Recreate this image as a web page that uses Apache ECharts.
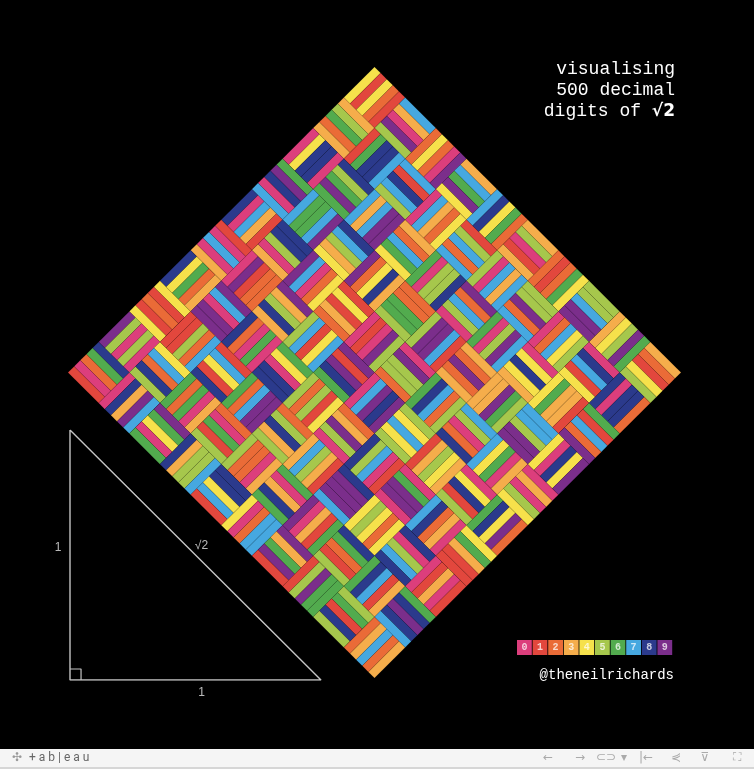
<!DOCTYPE html>
<html><head><meta charset="utf-8">
<script src="https://cdn.jsdelivr.net/npm/echarts@6/dist/echarts.min.js"></script>
<style>html,body{margin:0;padding:0;background:#000;overflow:hidden}#c{width:754px;height:769px}</style>
</head><body><div id="c"></div>
<script>
// 500 decimal digits of sqrt(2), in rows of 10
const digitRows = [
"4142135623","7309504880","1688724209","6980785696","7187537694",
"8073176679","7379907324","7846210703","8850387534","3276415727",
"3501384623","0912297024","9248360558","5073721264","4121497099",
"9358314132","2266592750","5592755799","9505011527","8206057147",
"0109559971","6059702745","3459686201","4728517418","6408891986",
"0955232923","0484308714","3214508397","6260362799","5251407989",
"6872533965","4633180882","9640620615","2583523950","5474575028",
"7759961729","8355752203","3753185701","1354374603","4084988471",
"6038689997","0699004815","0305440277","9031645424","7823068492",
"9369186215","8057846311","1596668713","0130156185","6898723723"
];
const digitColors = ['#dc3e7c','#e2473d','#ea6b37','#f5ad4b','#f6e14b','#a6c74c','#52ab4e','#46a8e0','#2b3a8c','#7b2e8b'];
const legendDigits = ['0','1','2','3','4','5','6','7','8','9'];
const titleLines = ['visualising', '500 decimal', 'digits of {b|√2}'];
const creditText = '@theneilrichards';
const triangleVertices = [[0,1],[0,0],[1,0],[0,1]];   // legs 1, hypotenuse √2
const rightAngleMark = [[0,0.044],[0.044,0.044],[0.044,0]];
const triangleLabels = [[0,0.5,'1'],[0.5,0.5,'√2'],[0.5,0,'1']];
const BLOCKS = 10, PER_BLOCK = 5;

const digits = digitRows.join('').split('').map(Number);
const blocks = [];
for (let d = 0; d <= 2 * (BLOCKS - 1); d++) {
  for (let v = Math.min(d, BLOCKS - 1); v >= Math.max(0, d - (BLOCKS - 1)); v--) {
    blocks.push([d - v, v, d % 2]);
  }
}
const stripeData = [];
blocks.forEach(([u, v, odd], b) => {
  for (let k = 0; k < PER_BLOCK; k++) {
    const dig = digits[b * PER_BLOCK + k];
    if (!odd) stripeData.push([u + k / PER_BLOCK, v, 1 / PER_BLOCK, 1, dig]);
    else stripeData.push([u, v + k / PER_BLOCK, 1, 1 / PER_BLOCK, dig]);
  }
});
const SPAN = 2 * BLOCKS;

const chart = echarts.init(document.getElementById('c'), null, {renderer: 'canvas'});

const graphics = [];
graphics.push({
  type: 'text', x: 675, y: 59,
  style: {
    text: titleLines.join('\n'), align: 'right', verticalAlign: 'top',
    fill: '#ffffff', fontFamily: '"Liberation Mono", "Courier New", monospace', fontSize: 18, lineHeight: 21,
    rich: { b: { fontWeight: 'bold', fontFamily: '"DejaVu Sans", sans-serif', fontSize: 17, fill: '#fff', lineHeight: 21 } }
  }
});
legendDigits.forEach((t, i) => {
  graphics.push({ type: 'rect', shape: { x: 517 + i * 15.6, y: 640, width: 14.8, height: 15 }, style: { fill: digitColors[i] } });
  graphics.push({ type: 'text', x: 517 + i * 15.6 + 7.4, y: 647.5,
    style: { text: t, align: 'center', verticalAlign: 'middle', fill: 'rgba(255,255,255,0.75)', fontFamily: '"Liberation Mono", monospace', fontWeight: 'bold', fontSize: 10 } });
});
graphics.push({ type: 'text', x: 674, y: 675,
  style: { text: creditText, align: 'right', verticalAlign: 'middle', fill: '#fff', fontFamily: '"Liberation Mono", "Courier New", monospace', fontSize: 14 } });
// tableau toolbar
graphics.push({ type: 'rect', shape: { x: 0, y: 749, width: 754, height: 20 }, style: { fill: '#f5f5f5' } });
graphics.push({ type: 'rect', shape: { x: 0, y: 767, width: 754, height: 2 }, style: { fill: '#d6d6d6' } });
graphics.push({ type: 'text', x: 12, y: 758, style: { text: '✣', fill: '#999', fontSize: 12, verticalAlign: 'middle', align: 'left' } });
graphics.push({ type: 'text', x: 29, y: 758, style: { text: '+ a b | e a u', fill: '#666', fontSize: 12, fontFamily: 'Roboto, sans-serif', verticalAlign: 'middle', align: 'left' } });
const icons = [['←',548],['→',580],['⊂⊃',606],['▾',624],['|←',646],['⋞',676],['⊽',705],['⛶',737]];
icons.forEach(([t, x]) => graphics.push({ type: 'text', x: x, y: 758, style: { text: t, fill: '#aaaaaa', fontSize: 12, align: 'center', verticalAlign: 'middle', fontFamily: '"DejaVu Sans", sans-serif' } }));

chart.setOption({
  backgroundColor: '#000',
  animation: false,
  grid: [
    { left: 68, top: 67, width: 613, height: 611 },
    { left: 70, top: 430, width: 251, height: 250 }
  ],
  xAxis: [
    { type: 'value', gridIndex: 0, min: -BLOCKS, max: BLOCKS, show: false },
    { type: 'value', gridIndex: 1, min: 0, max: 1, show: false }
  ],
  yAxis: [
    { type: 'value', gridIndex: 0, min: 0, max: SPAN, show: false },
    { type: 'value', gridIndex: 1, min: 0, max: 1, show: false }
  ],
  series: [
    {
      type: 'custom', xAxisIndex: 0, yAxisIndex: 0, clip: false,
      data: stripeData,
      encode: { x: 0, y: 1 },
      renderItem: function (params, api) {
        const u = api.value(0), v = api.value(1), du = api.value(2), dv = api.value(3);
        const corners = [[u, v], [u + du, v], [u + du, v + dv], [u, v + dv]];
        const pts = corners.map(([a, b]) => api.coord([a - b, SPAN - a - b]));
        return { type: 'polygon', shape: { points: pts },
          style: { fill: digitColors[api.value(4)], stroke: 'rgba(0,0,0,0.13)', lineWidth: 0.6 } };
      }
    },
    {
      type: 'line', xAxisIndex: 1, yAxisIndex: 1, data: triangleVertices, symbol: 'none',
      lineStyle: { color: '#c4c4c4', width: 1.4 }, silent: true
    },
    {
      type: 'line', xAxisIndex: 1, yAxisIndex: 1, data: rightAngleMark, symbol: 'none',
      lineStyle: { color: '#c4c4c4', width: 1.2 }, silent: true
    },
    {
      type: 'scatter', xAxisIndex: 1, yAxisIndex: 1, symbolSize: 1,
      itemStyle: { color: 'rgba(0,0,0,0)' },
      data: triangleLabels.map((d, i) => ({
        value: d,
        label: {
          show: true, formatter: d[2], color: '#e6e6e6', fontSize: 12, fontFamily: 'Arial, "Liberation Sans", sans-serif',
          position: 'inside', offset: [[-12, -7], [6, -9], [6, 13]][i]
        }
      }))
    }
  ],
  graphic: graphics
});
</script></body></html>
